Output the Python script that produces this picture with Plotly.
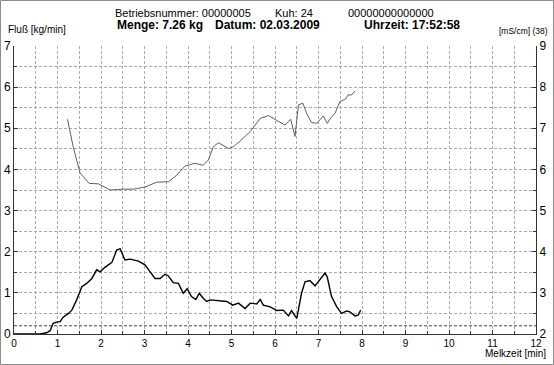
import plotly.graph_objects as go

# Flow curve (kg/min) vs milking time (min)
flow_t = [0.0, 0.60, 0.75, 0.83, 0.90, 0.98, 1.06, 1.13, 1.25, 1.33, 1.44, 1.56, 1.67, 1.79, 1.90, 1.98,
          2.09, 2.25, 2.36, 2.44, 2.55, 2.67, 2.86, 3.01, 3.13, 3.24, 3.36, 3.47, 3.55, 3.66, 3.78,
          3.89, 3.98, 4.08, 4.18, 4.26, 4.35, 4.43, 4.51, 4.74, 4.89, 5.03, 5.16, 5.31, 5.43, 5.58,
          5.66, 5.73, 5.89, 6.04, 6.19, 6.31, 6.38, 6.50, 6.61, 6.69, 6.80, 6.92, 7.03, 7.15, 7.20,
          7.30, 7.42, 7.53, 7.65, 7.72, 7.84, 7.91, 7.97]
flow_v = [0.0, 0.0, 0.03, 0.08, 0.26, 0.29, 0.30, 0.41, 0.50, 0.58, 0.83, 1.15, 1.23, 1.35, 1.56, 1.51,
          1.62, 1.74, 2.04, 2.07, 1.80, 1.82, 1.77, 1.68, 1.51, 1.35, 1.35, 1.45, 1.41, 1.25, 1.23,
          0.99, 1.10, 0.91, 0.84, 0.99, 0.87, 0.79, 0.83, 0.81, 0.79, 0.70, 0.75, 0.62, 0.75, 0.73,
          0.84, 0.70, 0.66, 0.57, 0.58, 0.44, 0.57, 0.38, 0.99, 1.27, 1.30, 1.17, 1.31, 1.48, 1.39,
          0.91, 0.66, 0.50, 0.56, 0.54, 0.44, 0.46, 0.58]

# Conductivity curve (mS/cm) vs milking time (min)
cond_t = [1.23, 1.36, 1.52, 1.73, 1.94, 2.21, 2.51, 2.74, 3.01, 3.28, 3.55, 3.74, 3.93, 4.16, 4.35,
          4.47, 4.58, 4.70, 4.93, 5.04, 5.20, 5.43, 5.66, 5.85, 6.04, 6.23, 6.36, 6.46, 6.54, 6.64,
          6.73, 6.84, 6.96, 7.11, 7.20, 7.30, 7.38, 7.49, 7.61, 7.68, 7.76, 7.84]
cond_v = [7.22, 6.55, 5.91, 5.66, 5.65, 5.50, 5.52, 5.52, 5.57, 5.69, 5.70, 5.86, 6.08, 6.15, 6.10,
          6.23, 6.55, 6.65, 6.51, 6.55, 6.69, 6.92, 7.24, 7.31, 7.19, 7.08, 7.22, 6.80, 7.57, 7.61,
          7.36, 7.14, 7.12, 7.30, 7.12, 7.28, 7.36, 7.65, 7.70, 7.81, 7.81, 7.91]

threshold = 0.2
x_ticks = list(range(0, 13))
y_ticks = list(range(0, 8))
y2_ticks = list(range(2, 10))

W, H = 554, 365
L, R, T, B = 14, 18, 46, 31
pw, ph = W - L - R, H - T - B

FONT = "Liberation Sans, Arial, sans-serif"
GRID = "#ababab"
DASH = "3px,2px"

fig = go.Figure()
fig.add_trace(go.Scatter(x=cond_t, y=cond_v, yaxis="y2", mode="lines",
                         line=dict(color="#5f5f5f", width=1), showlegend=False))
fig.add_trace(go.Scatter(x=flow_t, y=flow_v, mode="lines",
                         line=dict(color="#000000", width=1.4), showlegend=False))

axis_common = dict(showline=True, linecolor="#333333", linewidth=1, ticks="inside",
                   ticklen=4, tickcolor="#333333", zeroline=False)

fig.update_layout(
    width=W, height=H,
    margin=dict(l=L, r=R, t=T, b=B, autoexpand=False),
    paper_bgcolor="white", plot_bgcolor="white",
    xaxis=dict(range=[0, 12], tickvals=x_ticks, showgrid=True, gridcolor=GRID,
               griddash=DASH, gridwidth=1,
               minor=dict(dtick=0.5, showgrid=True, gridcolor=GRID, griddash=DASH,
                          ticks="inside", ticklen=3, tickcolor="#333"),
               tickfont=dict(family=FONT, size=10, color="#000"),
               ticklabelstandoff=0, automargin=False, **axis_common),
    yaxis=dict(range=[0, 7], tickvals=y_ticks, showgrid=True, gridcolor=GRID,
               griddash=DASH, gridwidth=1,
               minor=dict(dtick=0.5, showgrid=True, gridcolor=GRID, griddash=DASH,
                          ticks="inside", ticklen=3, tickcolor="#333"),
               tickfont=dict(family=FONT, size=12, color="#000"),
               ticklabelstandoff=0, automargin=False, **axis_common),
    yaxis2=dict(range=[2, 9], tickvals=y2_ticks, overlaying="y", side="right", showgrid=False,
                minor=dict(dtick=0.5, ticks="inside", ticklen=3, tickcolor="#333"),
                tickfont=dict(family=FONT, size=12, color="#000"),
                ticklabelstandoff=0, automargin=False, **axis_common),
    shapes=[
        dict(type="line", xref="x", yref="y", x0=0, x1=12, y0=threshold, y1=threshold,
             line=dict(color="#444444", width=1, dash="3px,2px")),
        dict(type="rect", xref="paper", yref="paper",
             x0=(0.5 - L) / pw, x1=(W - 0.5 - L) / pw,
             y0=(ph + T - H + 0.5) / ph, y1=(ph + T - 0.5) / ph,
             line=dict(color="#8c8c8c", width=1)),
    ],
)

def px_x(p):
    return (p - L) / pw

def px_y(p):
    return (T + ph - p) / ph

annots = [
    ("Betriebsnummer: 00000005", 113, 12.5, "left", 11, False),
    ("Kuh: 24", 273, 12.5, "left", 11, False),
    ("00000000000000", 346, 12.5, "left", 11, False),
    ("Menge: 7.26 kg", 115, 25, "left", 12, True),
    ("Datum: 02.03.2009", 213, 25, "left", 12, True),
    ("Uhrzeit: 17:52:58", 362, 25, "left", 12, True),
    ("Fluß [kg/min]", 6, 29.5, "left", 10, False),
    ("[mS/cm] (38)", 550, 31, "right", 8.5, False),
    ("Melkzeit [min]", 548, 353, "right", 10, False),
]
for text, x, y, xa, size, bold in annots:
    fig.add_annotation(xref="paper", yref="paper", showarrow=False, yanchor="middle",
                       text=f"<b>{text}</b>" if bold else text,
                       x=px_x(x), y=px_y(y), xanchor=xa,
                       font=dict(family=FONT, color="#000", size=size))

fig.write_html("out.html")
